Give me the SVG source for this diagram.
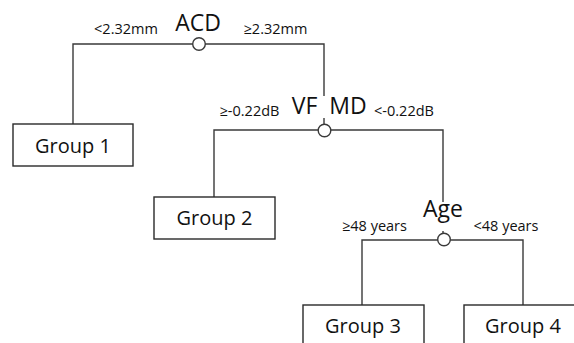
<svg xmlns="http://www.w3.org/2000/svg" width="574" height="343" viewBox="0 0 574 343">
<style>
.ln{fill:none;stroke:#3a3a3a;stroke-width:1.4}
.nd{fill:#fff;stroke:#3a3a3a;stroke-width:1.4}
.bx{fill:#fff;stroke:#2a2a2a;stroke-width:1.4}
text{font-family:"Open Sans","Noto Sans",sans-serif;fill:#111;text-anchor:middle}
.big{font-size:23px}
.sm{font-size:14.5px}
.grp{font-size:20px}
</style>
<rect width="574" height="343" fill="#fff"/>
<g id="connectors">
<path class="ln" d="M73,124 V44 H324 V96 M324,118 V130"/>
<path class="ln" d="M214,197 V130 H443 V202 M443,231 V240"/>
<path class="ln" d="M362,305 V240 H523 V305"/>
</g>
<g id="acd">
<circle class="nd" cx="199" cy="44" r="6.3"/>
<text class="big" x="198" y="31">ACD</text>
<text class="sm" x="126" y="34">&lt;2.32mm</text>
<text class="sm" x="275.5" y="34">≥2.32mm</text>
</g>
<g id="vfmd">
<circle class="nd" cx="324.5" cy="130.5" r="6.3"/>
<text class="big" x="304.5" y="114">VF</text>
<text class="big" x="348" y="114">MD</text>
<text class="sm" x="249.5" y="116">≥-0.22dB</text>
<text class="sm" x="404" y="116">&lt;-0.22dB</text>
</g>
<g id="age">
<circle class="nd" cx="444" cy="239.5" r="6.3"/>
<text class="big" x="443" y="217">Age</text>
<text class="sm" x="374.5" y="231">≥48 years</text>
<text class="sm" x="506" y="231">&lt;48 years</text>
</g>
<g id="group1">
<rect class="bx" x="13" y="124" width="120" height="42"/>
<text class="grp" x="73" y="153">Group 1</text>
</g>
<g id="group2">
<rect class="bx" x="154" y="197" width="121" height="42"/>
<text class="grp" x="214.5" y="225">Group 2</text>
</g>
<g id="group3">
<rect class="bx" x="303" y="305" width="121" height="42"/>
<text class="grp" x="363" y="333">Group 3</text>
</g>
<g id="group4">
<rect class="bx" x="464" y="305" width="121" height="42"/>
<text class="grp" x="523" y="333">Group 4</text>
</g>
</svg>
